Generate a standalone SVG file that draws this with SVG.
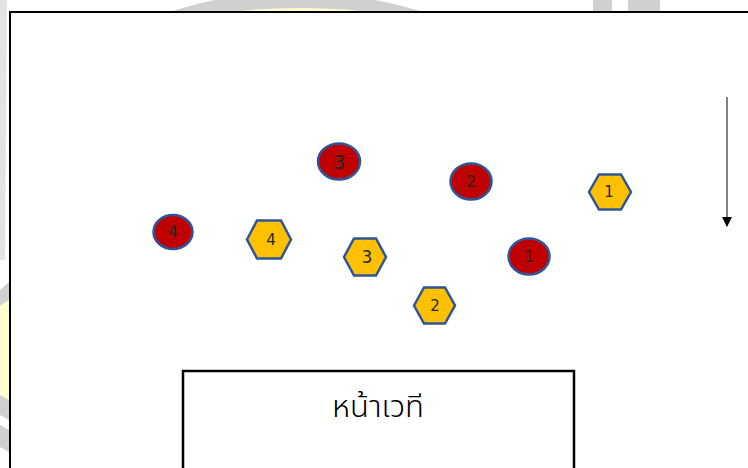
<svg xmlns="http://www.w3.org/2000/svg" width="748" height="468" viewBox="0 0 748 468">
<defs>
<style>
.red{fill:#C00000;stroke:#2F5597;stroke-width:2.5}
.hex{fill:#FFC000;stroke:#2F5597;stroke-width:2.5}
.lbl{font-family:"DejaVu Sans","Liberation Sans",sans-serif;font-size:15px;fill:#262626;text-anchor:middle;dominant-baseline:central}
.wm{fill:#d0d0d0}
.wy{fill:#fffccc}
</style>
<marker id="ah" viewBox="0 0 10 10" refX="9" refY="5" markerWidth="7" markerHeight="7" orient="auto" markerUnits="strokeWidth">
<path d="M0,0 L10,5 L0,10 z" fill="#000"/>
</marker>
</defs>
<rect width="748" height="468" fill="#ffffff"/>
<g id="watermark">
<path class="wm" d="M164,14 Q290,-30 430,14 Z"/>
<path class="wy" d="M210,14 Q300,2 390,14 Z"/>
<rect class="wm" x="593" y="0" width="19" height="14"/>
<rect class="wm" x="628" y="0" width="32" height="14"/>
<path class="wm" d="M0,0 L7,0 L5,260 L0,260 Z" opacity="0.6"/>
<path class="wm" d="M0,290 L9,282 L9,300 L0,306 Z"/>
<path class="wy" d="M0,306 L9,300 L9,400 L0,395 Z"/>
<path class="wm" d="M0,395 L9,400 L9,420 L0,415 Z"/>
<path class="wm" d="M0,425 L9,430 L9,452 L0,447 Z"/>
</g>
<rect id="frame" x="10" y="12" width="748" height="470" fill="#ffffff" stroke="#000" stroke-width="2"/>
<g id="stage">
<rect x="183" y="371" width="391" height="110" fill="#ffffff" stroke="#000" stroke-width="2.5"/>
<text x="378" y="407" font-family="'Noto Sans Thai','Noto Sans','DejaVu Sans',sans-serif" font-size="31" font-weight="300" fill="#000" text-anchor="middle" dominant-baseline="central">หน้าเวที</text>
</g>
<g id="connectors">
<line x1="727" y1="97" x2="727" y2="226" stroke="#595959" stroke-width="1.5" marker-end="url(#ah)"/>
</g>
<g id="red3"><ellipse class="red" cx="339" cy="161.5" rx="21" ry="18"/><text class="lbl" x="339" y="161.5" style="font-size:19px">3</text></g>
<g id="red2"><ellipse class="red" cx="471" cy="181.5" rx="20.5" ry="18"/><text class="lbl" x="471" y="181.5">2</text></g>
<g id="red4"><ellipse class="red" cx="173" cy="232" rx="19.5" ry="17"/><text class="lbl" x="173" y="232">4</text></g>
<g id="red1"><ellipse class="red" cx="529" cy="256.5" rx="20.5" ry="18"/><text class="lbl" x="529" y="256.5">1</text></g>
<g id="hex4"><polygon class="hex" points="247,239.5 257,220.5 281,220.5 291,239.5 281,258.5 257,258.5"/><text class="lbl" x="271" y="239.5">4</text></g>
<g id="hex3"><polygon class="hex" points="344,257 354,238.5 376,238.5 386,257 376,275.5 354,275.5"/><text class="lbl" x="367" y="257" style="font-size:17px">3</text></g>
<g id="hex1"><polygon class="hex" points="589,192 599,174.5 621,174.5 631,192 621,209.5 599,209.5"/><text class="lbl" x="609" y="192">1</text></g>
<g id="hex2"><polygon class="hex" points="414,305.5 424,287.5 445,287.5 455,305.5 445,323.5 424,323.5"/><text class="lbl" x="435" y="305.5">2</text></g>
</svg>
